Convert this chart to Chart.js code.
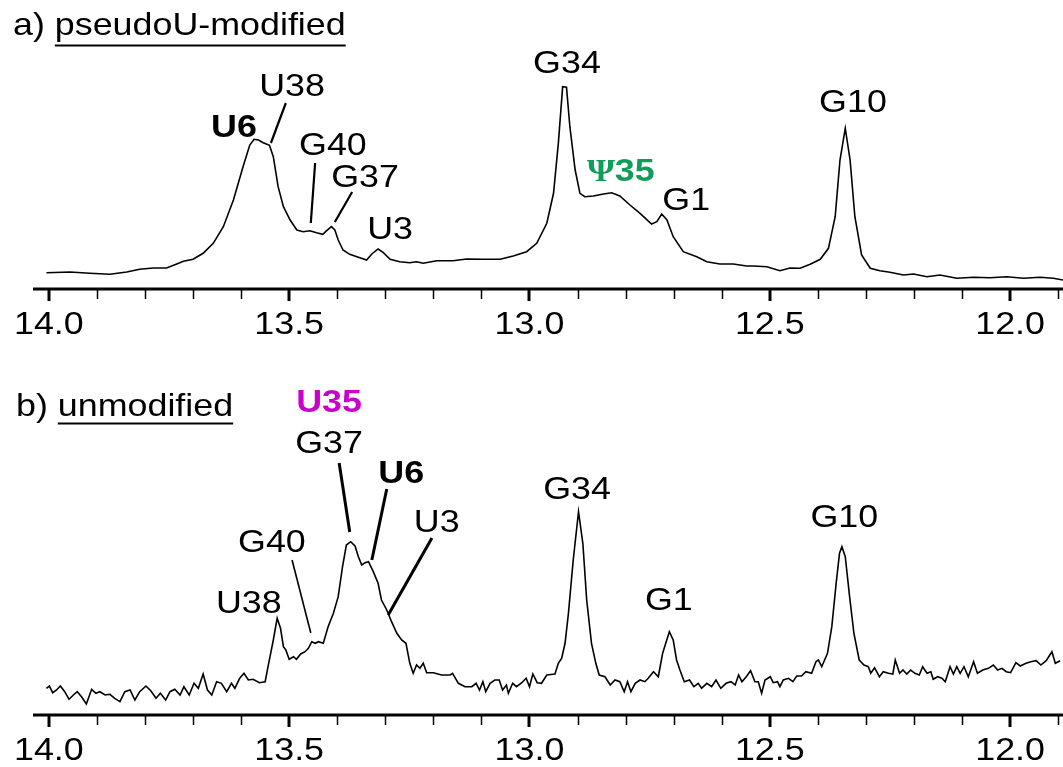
<!DOCTYPE html>
<html><head><meta charset="utf-8">
<script src="https://cdn.jsdelivr.net/npm/chart.js@4.4.0/dist/chart.umd.min.js"></script>
<style>
html,body{margin:0;padding:0;background:#fff;width:1063px;height:767px;overflow:hidden}
canvas{position:absolute;left:0}
#ca{top:0}
#cb{top:380px}
</style></head>
<body>
<canvas id="ca" width="1063" height="340"></canvas>
<canvas id="cb" width="1063" height="387"></canvas>
<script>
// ---- axis ticks (ppm) ----
const majorTicks = [14.0, 13.5, 13.0, 12.5, 12.0];
const majorLabels = ['14.0', '13.5', '13.0', '12.5', '12.0'];
const minorTicks = [13.9, 13.8, 13.7, 13.6, 13.4, 13.3, 13.2, 13.1, 12.9, 12.8, 12.7, 12.6, 12.4, 12.3, 12.2, 12.1, 11.9];
const ppmLeft = 14.033, ppmRight = 11.89;

// ---- a) pseudoU-modified spectrum ----
const aPpm = [14.005,13.956,13.915,13.873,13.838,13.811,13.783,13.755,13.734,13.720,13.700,13.679,13.658,13.637,13.616,13.596,13.582,13.573,13.564,13.554,13.541,13.533,13.523,13.512,13.498,13.484,13.471,13.457,13.443,13.430,13.422,13.412,13.405,13.398,13.388,13.374,13.356,13.339,13.328,13.315,13.304,13.290,13.270,13.249,13.235,13.221,13.193,
13.159,13.131,13.096,13.061,13.034,13.006,12.985,12.964,12.950,12.940,12.931,12.923,12.916,12.905,12.895,12.885,12.867,12.846,12.829,12.812,12.791,12.770,12.746,12.735,12.725,12.714,12.701,12.680,12.652,12.631,12.604,12.576,12.548,
12.534,12.506,12.479,12.458,12.437,12.416,12.395,12.378,12.364,12.354,12.343,12.333,12.323,12.309,12.291,12.271,12.250,12.222,12.201,12.173,12.146,12.111,12.076,12.042,12.007,11.972,11.938,11.910,11.890];
const aInt = [16.3,17,15.7,14.7,17,19.7,21,21,25,27.7,29.7,35.7,45.7,62.3,89,122.3,144,149.7,149,146.3,143.7,132.3,102.3,82.3,69,59,57.3,58.3,56.3,54.7,58.3,62.3,59,49,39,34.7,31.7,29,35,40,36.3,29.7,27.3,26.3,27.3,25.7,28.3,
28.3,30,29.7,29.7,33,37.3,45.7,65.7,95.7,145.7,202.3,201.7,162.3,119,95.7,92.3,93,95,96.3,93,84,75.7,65,67.3,75,69,52.3,37.3,32.3,27.3,25,25,23,
23,22.3,18.3,21,20.7,24.7,29.7,40.7,72.3,129,160.7,129,72.3,34,20.7,18.3,16.7,14,15,12.3,14,10.7,11.7,11.3,12.3,10.7,11.7,10.7,9];

// ---- b) unmodified spectrum ----
const bPpm = [14.005,13.999,13.992,13.984,13.976,13.967,13.958,13.949,13.941,13.932,13.922,13.911,13.902,13.894,13.883,13.873,13.863,13.852,13.842,13.831,13.821,13.811,13.798,13.788,13.777,13.768,13.757,13.748,13.738,13.727,13.719,13.708,13.698,13.689,13.679,13.670,13.661,13.651,13.641,13.630,13.620,13.613,13.603,13.594,13.585,13.575,13.562,13.550,13.544,13.533,13.525,13.518,13.512,13.507,13.500,13.491,13.485,13.476,13.467,13.460,13.453,13.446,13.439,13.429,13.419,13.408,13.398,13.389,13.381,13.372,13.363,13.356,13.349,13.342,13.335,13.325,13.315,13.308,13.297,13.287,13.276,13.266,13.257,13.249,13.242,13.235,13.228,13.221,13.214,13.200,13.183,13.165,
13.160,13.148,13.134,13.120,13.111,13.104,13.097,13.091,13.082,13.072,13.063,13.056,13.048,13.044,13.035,13.027,13.016,13.007,13.000,12.993,12.984,12.975,12.964,12.947,12.940,12.933,12.926,12.919,12.909,12.898,12.889,12.881,12.871,12.862,12.855,12.843,12.832,12.822,12.812,12.803,12.796,12.789,12.780,12.770,12.760,12.753,12.742,12.732,12.723,12.709,12.701,12.694,12.687,12.678,12.667,12.658,12.649,12.642,12.631,12.621,12.612,12.602,12.591,12.581,12.572,12.565,12.558,12.549,12.540,12.531,12.524,12.517,12.510,12.499,
12.493,12.484,12.479,12.472,12.461,12.452,12.444,12.434,12.425,12.413,12.404,12.399,12.392,12.380,12.371,12.362,12.355,12.350,12.343,12.334,12.325,12.314,12.304,12.295,12.290,12.282,12.272,12.264,12.253,12.244,12.239,12.230,12.223,12.215,12.207,12.198,12.189,12.182,12.173,12.165,12.160,12.151,12.142,12.135,12.125,12.118,12.111,12.104,12.096,12.087,12.076,12.068,12.057,12.045,12.035,12.026,12.017,12.008,11.999,11.988,11.979,11.967,11.957,11.946,11.936,11.925,11.913,11.906,11.896];
const bInt = [26.7,29,22.3,25,29,23.3,15.7,20,23.3,18.3,11,25.7,21.7,23.3,20,20.7,16.7,13.3,23.3,25,15,23.3,29,24.3,16.7,21.7,15,23.3,25.7,20,28.3,20,31.7,26.7,41,25,20,33.3,31.7,23.3,31.7,26.7,36.7,41.7,35,35.7,32.3,33.3,48.3,75,96.7,86.7,68.3,65,55.7,58.3,55.7,61,63.3,66.7,73.3,71.7,73.3,71.7,88.3,101.7,118.3,148.3,170,173.3,169,158.3,150,152.3,153.3,143.3,131.7,115,105,93.3,81.7,75,71.7,51.7,41.7,50,46.7,51.7,42.3,42.3,40,40,
41.7,31.7,28.3,28.3,31.7,25,33.3,23.3,31.7,35,35,25,30,21.7,31.7,28.3,32.3,36.7,28.3,41,32.3,31.7,40,41,51.7,56.7,71.7,101.7,155,203.3,171.7,115,71.7,51.7,40,38.3,30,35,33.3,23.3,33.3,23.3,31.7,35,33.3,36.7,43.3,38.3,61.7,83.3,75,55,45,33.3,35,28.3,31.7,26.7,31.7,28.3,35,26.7,31.7,33.3,30,40,33.3,38.3,44.3,33.3,33.3,21.7,35,38.3,
32.3,33.3,28.3,35,36.7,33.3,39,39,43.3,41.7,53.3,55,48.3,61.7,88.3,131.7,161.7,168.3,158.3,118.3,81.7,55,50,48.3,41.7,47.3,38.3,43.3,41.7,41,55,41.7,45,41,45,41.7,40,48.3,41.7,43.3,35.7,38.3,36.7,33.3,48.3,41,48.3,41.7,48.3,38.3,53.3,41.7,45,46.7,50,45,46.7,43.3,42.3,52.3,49,51.7,53.3,54.3,50,54.3,63.3,51.7,54.3];

// ---- peak labels (ppm, intensity) ----
const aLabels = [
  {t:'U6', p:13.615, v:152, bold:true},
  {t:'U38', p:13.494, v:193},
  {t:'G40', p:13.409, v:134},
  {t:'G37', p:13.342, v:102},
  {t:'U3', p:13.290, v:50},
  {t:'G34', p:12.922, v:216},
  {t:'G1', p:12.674, v:79},
  {t:'G10', p:12.327, v:177}
];
const aPsi = {p:12.810, v:108};
const aLines = [
  {p1:13.507, v1:186, p2:13.538, v2:146, w:2.2},
  {p1:13.446, v1:126, p2:13.455, v2:66, w:2.2},
  {p1:13.369, v1:97, p2:13.405, v2:67, w:2.2}
];
const bLabels = [
  {t:'U35', p:13.417, v:303, bold:true, color:'#cc00cc'},
  {t:'G37', p:13.417, v:262},
  {t:'U6', p:13.267, v:232, bold:true},
  {t:'U3', p:13.193, v:183},
  {t:'G40', p:13.536, v:163},
  {t:'U38', p:13.584, v:102},
  {t:'G34', p:12.901, v:216},
  {t:'G1', p:12.710, v:105},
  {t:'G10', p:12.345, v:188}
];
const bLines = [
  {p1:13.396, v1:252, p2:13.374, v2:183, w:3},
  {p1:13.297, v1:226, p2:13.328, v2:155, w:3},
  {p1:13.203, v1:177, p2:13.294, v2:100, w:3},
  {p1:13.494, v1:155, p2:13.455, v2:82, w:1.6}
];

const SX = 1.12;
const SANS = "'Liberation Sans', Arial, Helvetica, sans-serif";
const SERIF = "'Liberation Serif', 'Times New Roman', serif";
const FS = 32;

function txt(ctx, s, x, y, font, color, align) {
  ctx.save();
  ctx.font = font; ctx.fillStyle = color || '#000';
  ctx.textAlign = align || 'center'; ctx.textBaseline = 'alphabetic';
  ctx.translate(x, y); ctx.scale(SX, 1);
  ctx.fillText(s, 0, 0);
  ctx.restore();
}

function makeChart(id, ppm, inten, opts) {
  const pts = ppm.map((p, i) => ({x: p, y: inten[i]}));
  const deco = {
    id: 'deco',
    afterDraw(chart) {
      const ctx = chart.ctx, xs = chart.scales.x, ys = chart.scales.y, ca = chart.chartArea;
      const base = ca.bottom;
      ctx.save();
      ctx.strokeStyle = '#000';
      ctx.lineCap = 'butt';
      // axis line
      ctx.lineWidth = 3;
      ctx.beginPath(); ctx.moveTo(ca.left, base); ctx.lineTo(ca.right, base); ctx.stroke();
      // major ticks
      ctx.lineWidth = 3;
      majorTicks.forEach(t => {
        const x = Math.round(xs.getPixelForValue(t));
        ctx.beginPath(); ctx.moveTo(x, base); ctx.lineTo(x, base + 12); ctx.stroke();
      });
      ctx.lineWidth = 1.5;
      minorTicks.forEach(t => {
        const x = Math.round(xs.getPixelForValue(t)) + 0.5;
        ctx.beginPath(); ctx.moveTo(x, base); ctx.lineTo(x, base + 10); ctx.stroke();
      });
      majorTicks.forEach((t, i) => {
        txt(ctx, majorLabels[i], xs.getPixelForValue(t), base + 45, FS + 'px ' + SANS, '#000');
      });
      // leader lines
      opts.lines.forEach(l => {
        ctx.lineWidth = l.w;
        ctx.beginPath();
        ctx.moveTo(xs.getPixelForValue(l.p1), ys.getPixelForValue(l.v1));
        ctx.lineTo(xs.getPixelForValue(l.p2), ys.getPixelForValue(l.v2));
        ctx.stroke();
      });
      // peak labels
      opts.labels.forEach(l => {
        txt(ctx, l.t, xs.getPixelForValue(l.p), ys.getPixelForValue(l.v),
            (l.bold ? 'bold ' : '') + FS + 'px ' + SANS, l.color || '#000');
      });
      if (opts.psi) {
        const cx = xs.getPixelForValue(opts.psi.p), cy = ys.getPixelForValue(opts.psi.v);
        ctx.font = 'bold ' + FS + 'px ' + SERIF;
        const w1 = ctx.measureText('Ψ').width * SX;
        ctx.font = 'bold ' + FS + 'px ' + SANS;
        const w2 = ctx.measureText('35').width * SX;
        const x0 = cx - (w1 + w2) / 2;
        txt(ctx, 'Ψ', x0, cy, 'bold ' + FS + 'px ' + SERIF, '#109c5a', 'left');
        txt(ctx, '35', x0 + w1, cy, 'bold ' + FS + 'px ' + SANS, '#109c5a', 'left');
      }
      // panel title
      const tt = opts.title;
      txt(ctx, tt.prefix, tt.x, tt.y, FS + 'px ' + SANS, '#000', 'left');
      ctx.font = FS + 'px ' + SANS;
      const wp = ctx.measureText(tt.prefix + ' ').width * SX;
      txt(ctx, tt.name, tt.x + wp, tt.y, FS + 'px ' + SANS, '#000', 'left');
      const wn = ctx.measureText(tt.name).width * SX;
      ctx.lineWidth = 2;
      ctx.beginPath(); ctx.moveTo(tt.x + wp, tt.y + tt.ul); ctx.lineTo(tt.x + wp + wn, tt.y + tt.ul); ctx.stroke();
      ctx.restore();
    }
  };
  return new Chart(document.getElementById(id), {
    type: 'line',
    data: {datasets: [{data: pts, borderColor: '#000', borderWidth: 1.6, pointRadius: 0, tension: 0, fill: false}]},
    options: {
      responsive: false, animation: false, devicePixelRatio: 1,
      layout: {padding: {left: 33, right: 0, top: 0, bottom: opts.bottomPad}},
      plugins: {legend: {display: false}, tooltip: {enabled: false}, title: {display: false}},
      scales: {
        x: {type: 'linear', reverse: true, min: ppmRight, max: ppmLeft, display: false},
        y: {type: 'linear', min: 0, max: opts.ymax, display: false}
      }
    },
    plugins: [deco]
  });
}

makeChart('ca', aPpm, aInt, {
  bottomPad: 51, ymax: 289, labels: aLabels, lines: aLines, psi: aPsi,
  title: {prefix: 'a)', name: 'pseudoU-modified', x: 13, y: 35, ul: 10.5}
});
makeChart('cb', bPpm, bInt, {
  bottomPad: 52, ymax: 335, labels: bLabels, lines: bLines, psi: null,
  title: {prefix: 'b)', name: 'unmodified', x: 16, y: 36, ul: 7.5}
});
</script>
</body></html>
